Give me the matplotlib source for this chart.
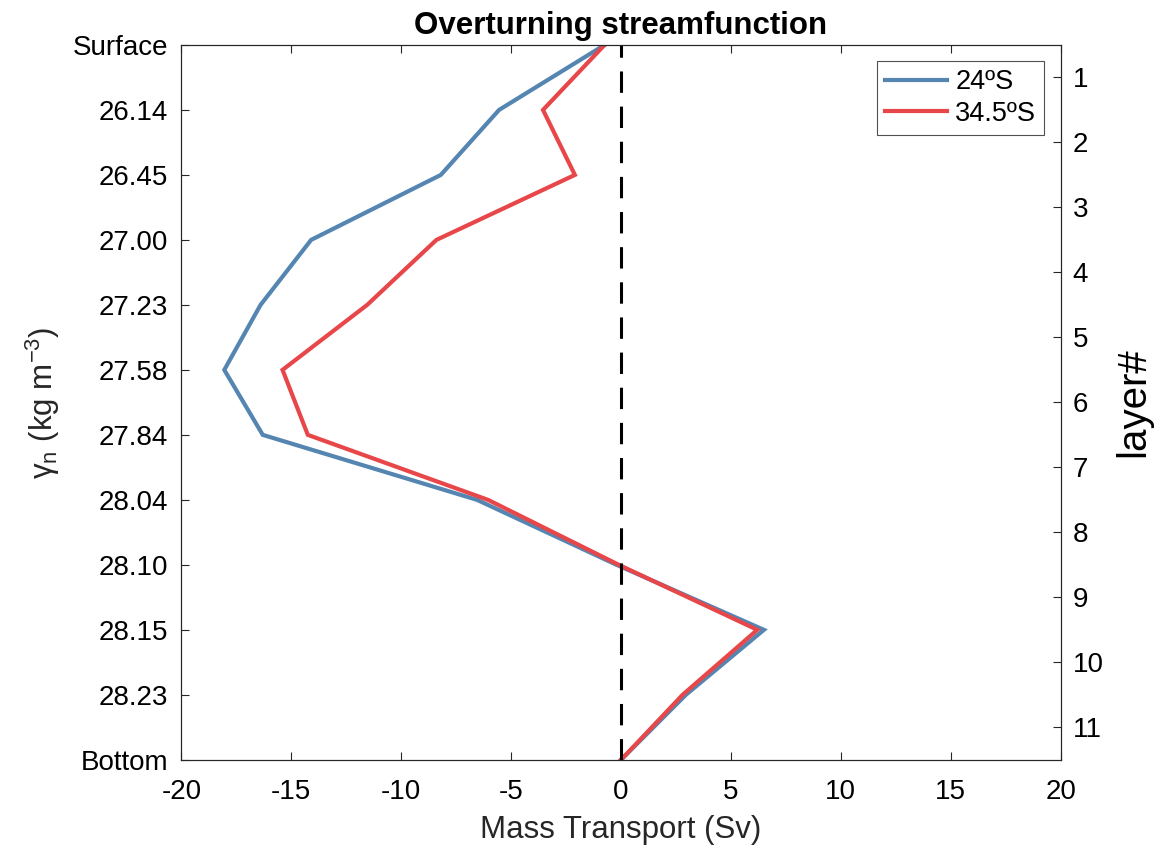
import matplotlib
matplotlib.use("Agg")
import matplotlib.pyplot as plt
import numpy as np

plt.rcParams['font.family'] = ['Liberation Sans', 'DejaVu Sans']
plt.rcParams['mathtext.fontset'] = 'custom'
plt.rcParams['mathtext.rm'] = 'Liberation Sans'
plt.rcParams['mathtext.it'] = 'Liberation Sans:italic'
plt.rcParams['axes.unicode_minus'] = False

density_labels = ['Surface', '26.14', '26.45', '27.00', '27.23', '27.58',
                  '27.84', '28.04', '28.10', '28.15', '28.23', 'Bottom']
layer_labels = ['1', '2', '3', '4', '5', '6', '7', '8', '9', '10', '11']
transport_24S = [-0.75, -5.55, -8.2, -14.1, -16.4, -18.05, -16.3, -6.55, -0.2, 6.5, 2.95, 0.0]
transport_34S = [-0.75, -3.55, -2.1, -8.4, -11.55, -15.4, -14.25, -6.05, -0.1, 6.2, 2.8, 0.0]
series_names = ['24ºS', '34.5ºS']

fig = plt.figure(figsize=(11.63, 8.48), dpi=100)
ax = fig.add_axes([0.156, 0.104, 0.756, 0.843])

levels = np.arange(len(density_labels))
ax.plot(transport_24S, levels, color='#5585B1', lw=3.0, label=series_names[0], solid_joinstyle='miter')
ax.plot(transport_34S, levels, color='#E8474A', lw=3.0, label=series_names[1], solid_joinstyle='miter')
ax.axvline(0, color='black', lw=2.2, ls=(0, (7, 4.5)))

ax.set_xlim(-20, 20)
ax.set_ylim(len(density_labels) - 1, 0)
ax.set_xticks(np.arange(-20, 21, 5))
ax.set_yticks(levels)
ax.set_yticklabels(density_labels)
ax.tick_params(direction='in', labelsize=20, length=6, width=0.8, colors='#262626',
               labelcolor='black')
ax.tick_params(axis='y', pad=9.5)
ax.tick_params(axis='x', top=True, pad=14)
for s in ax.spines.values():
    s.set_color('#262626')
    s.set_linewidth(0.8)

ax.set_xlabel('Mass Transport (Sv)', fontsize=22.5, color='#262626', labelpad=7)
ax.set_ylabel('γ$_\\mathrm{n}$ (kg m$^{-3}$)', fontsize=22.5, color='#262626', labelpad=8)
ax.set_title('Overturning streamfunction', fontsize=22.5, fontweight='bold', pad=8)

ax2 = ax.twinx()
ax2.set_ylim(len(density_labels) - 1, 0)
ax2.set_yticks(levels[:-1] + 0.5)
ax2.set_yticklabels(layer_labels)
ax2.tick_params(direction='in', labelsize=20, length=6, width=0.8, colors='#262626',
                labelcolor='black', pad=8.5)
ax2.set_ylabel('layer#', fontsize=29, color='black', labelpad=8)
for s in ax2.spines.values():
    s.set_color('#262626')
    s.set_linewidth(0.8)

leg = ax.legend(loc='upper right', fontsize=19.5, frameon=True, fancybox=False,
                edgecolor='#262626', handlelength=2.3, borderaxespad=0.6,
                handletextpad=0.3, borderpad=0.3, labelspacing=0.2)
leg.get_frame().set_linewidth(0.8)

fig.savefig('out.png', dpi=100)
